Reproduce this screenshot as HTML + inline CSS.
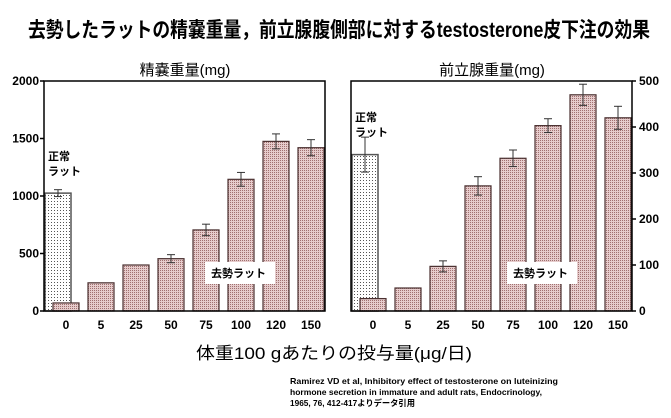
<!DOCTYPE html>
<html><head><meta charset="utf-8"><style>
body{margin:0;background:#fff;}
svg text{font-family:"Liberation Sans","Noto Sans CJK JP",sans-serif;fill:#000;}
</style></head><body>
<svg id="c" width="671" height="413" xmlns="http://www.w3.org/2000/svg">
<defs>
<pattern id="pk" width="2" height="2" patternUnits="userSpaceOnUse"><rect width="2" height="2" fill="#e6cccc"/><rect width="1" height="1" fill="#a07070"/></pattern>
<pattern id="gr" width="3" height="3" patternUnits="userSpaceOnUse"><rect width="3" height="3" fill="#fff"/><rect width="1" height="1" fill="#555"/></pattern>
</defs>
<text x="28" y="37" textLength="622" lengthAdjust="spacingAndGlyphs" font-size="21" font-weight="bold">去勢したラットの精嚢重量，前立腺腹側部に対するtestosterone皮下注の効果</text>
<text x="185" y="75" text-anchor="middle" font-size="15">精嚢重量(mg)</text>
<text x="492" y="75" text-anchor="middle" font-size="15">前立腺重量(mg)</text>
<text x="196" y="359" textLength="276" lengthAdjust="spacingAndGlyphs" font-size="17">体重100 gあたりの投与量(μg/日)</text>
<g font-size="8.5" font-weight="bold">
<text x="290" y="384" textLength="268" lengthAdjust="spacingAndGlyphs">Ramirez VD et al, Inhibitory effect of testosterone on luteinizing</text>
<text x="290" y="395" textLength="252" lengthAdjust="spacingAndGlyphs">hormone secretion in immature and adult rats, Endocrinology,</text>
<text x="290" y="406" textLength="125" lengthAdjust="spacingAndGlyphs">1965, 76, 412-417よりデータ引用</text>
</g>
<g id="L"></g><g id="R"></g>
</svg>
<script>
const categories=["0","5","25","50","75","100","120","150"];
const seminalValues=[70,245,400,455,705,1145,1475,1420];
const seminalErrors=[0,0,0,35,50,60,65,70];
const seminalNormal=1025, seminalNormalErr=30;
const seminalTicks=[0,500,1000,1500,2000];
const prostateValues=[27,50,97,272,332,403,470,420];
const prostateErrors=[0,0,12,20,18,15,23,25];
const prostateNormal=340, prostateNormalErr=38;
const prostateTicks=[0,100,200,300,400,500];
const NS="http://www.w3.org/2000/svg";
function mk(p,t,a){const e=document.createElementNS(NS,t);for(const k in a)e.setAttribute(k,a[k]);p.appendChild(e);return e;}
function panel(g,x0,x1,max,vals,errs,nv,ne,ticks,right,normX,labX,pfx){
  const top=81,bot=311,y=v=>bot-v/max*(bot-top);
  const cx=i=>x0+22+35*i, bw=26;
  let n=mk(g,'rect',{x:normX,y:y(nv),width:bw,height:bot-y(nv),fill:'url(#gr)',stroke:'#555','stroke-width':1.5});
  
  
  mk(g,'line',{x1:normX+13,x2:normX+13,y1:y(nv+ne),y2:y(nv-ne),stroke:'#333'});
  mk(g,'line',{x1:normX+9,x2:normX+17,y1:y(nv+ne),y2:y(nv+ne),stroke:'#333'});
  mk(g,'line',{x1:normX+9,x2:normX+17,y1:y(nv-ne),y2:y(nv-ne),stroke:'#333'});
  vals.forEach((v,i)=>{
    const b=mk(g,'rect',{x:cx(i)-bw/2,y:y(v),width:bw,height:bot-y(v),fill:'url(#pk)',stroke:'#4a3030','stroke-width':1.2});
    
    
    if(errs[i]>0){const e=errs[i];
      mk(g,'line',{x1:cx(i),x2:cx(i),y1:y(v+e),y2:y(v-e),stroke:'#333'});
      mk(g,'line',{x1:cx(i)-4,x2:cx(i)+4,y1:y(v+e),y2:y(v+e),stroke:'#333'});
      mk(g,'line',{x1:cx(i)-4,x2:cx(i)+4,y1:y(v-e),y2:y(v-e),stroke:'#333'});}
    const t=mk(g,'text',{x:cx(i),y:329,'text-anchor':'middle','font-size':12,'font-weight':'bold'});t.textContent=categories[i];
    
    
  });
  mk(g,'rect',{x:x0,y:top,width:x1-x0,height:bot-top,fill:'none',stroke:'#000','stroke-width':1.5});
  ticks.forEach(tv=>{
    const ax=right?x1:x0;
    mk(g,'line',{x1:right?ax:ax-4,x2:right?ax+4:ax,y1:y(tv),y2:y(tv),stroke:'#000','stroke-width':1.5});
    const t=mk(g,'text',{x:right?ax+7:ax-5,y:y(tv)+4,'text-anchor':right?'start':'end','font-size':12,'font-weight':'bold'});t.textContent=tv;
    
    
  });
  mk(g,'rect',{x:labX,y:262,width:70,height:22,fill:'#fff'});
  const lt=mk(g,'text',{x:labX+6,y:277,'font-size':11,'font-weight':'bold'});lt.textContent='去勢ラット';
  
  
  const n1=mk(g,'text',{x:normX+3,y:pfx=='left'?160:121,'font-size':11,'font-weight':'bold'});n1.textContent='正常';
  
  
  const n2=mk(g,'text',{x:normX+3,y:pfx=='left'?175:136,'font-size':11,'font-weight':'bold'});n2.textContent='ラット';
}
panel(document.getElementById('L'),44,325,2000,seminalValues,seminalErrors,seminalNormal,seminalNormalErr,seminalTicks,false,45,205,'left');
panel(document.getElementById('R'),351,632,500,prostateValues,prostateErrors,prostateNormal,prostateNormalErr,prostateTicks,true,352,507,'right');
</script>
</body></html>
